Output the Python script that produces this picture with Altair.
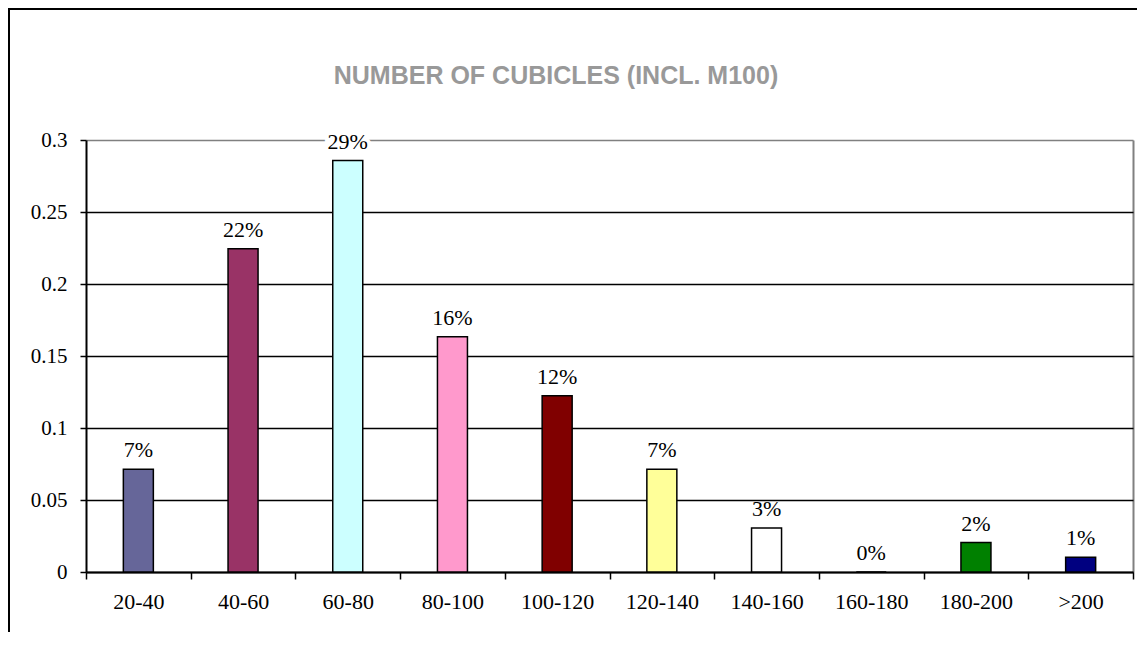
import altair as alt
import pandas as pd

categories = ["20-40", "40-60", "60-80", "80-100", "100-120",
              "120-140", "140-160", "160-180", "180-200", ">200"]
shares = [0.0714, 0.2245, 0.2857, 0.1633, 0.1224,
          0.0714, 0.0306, 0.0, 0.0204, 0.0102]
labels = ["7%", "22%", "29%", "16%", "12%", "7%", "3%", "0%", "2%", "1%"]
colors = ["#666699", "#993366", "#CCFFFF", "#FF99CC", "#800000",
          "#FFFF99", "#FFFFFF", "#FF99CC", "#008000", "#000080"]
y_ticks = [0, 0.05, 0.1, 0.15, 0.2, 0.25, 0.3]
title_text = ["NUMBER OF CUBICLES (INCL. M100)"]

df = pd.DataFrame({"cat": categories, "share": shares, "label": labels, "color": colors})
one = pd.DataFrame({"t": title_text})

W, H = 1047, 432
SERIF = "Liberation Serif"

x_enc = alt.X(
    "cat:N", sort=categories, title=None,
    scale=alt.Scale(paddingInner=0, paddingOuter=0),
    axis=alt.Axis(
        tickBand="extent", labelAngle=0, labelFont=SERIF, labelFontSize=22,
        labelColor="black", tickColor="black", tickSize=7, tickWidth=1.5,
        domainColor="black", domainWidth=2, labelPadding=12,
        grid=True, gridColor="#808080", gridWidth=2,
        gridOpacity=alt.condition("datum.value == '>200'", alt.value(1), alt.value(0)),
    ),
)
y_enc = alt.Y(
    "share:Q", title=None,
    scale=alt.Scale(domain=[0, 0.3], nice=False),
    axis=alt.Axis(
        values=y_ticks, format="~g", labelFont=SERIF, labelFontSize=21,
        labelColor="black", tickColor="black", tickSize=6, tickWidth=1.5,
        domainColor="black", domainWidth=2, labelPadding=13,
        grid=True, gridWidth=1.5,
        gridColor=alt.condition("datum.value >= 0.3", alt.value("#808080"), alt.value("black")),
    ),
)

# outer chart frame (only left and top edges are inside the picture)
frame_left = alt.Chart(one).mark_rule(color="black", strokeWidth=2).encode(
    x=alt.value(-77), y=alt.value(-132), y2=alt.value(H + 60)
)
frame_top = alt.Chart(one).mark_rule(color="black", strokeWidth=2).encode(
    x=alt.value(-78), x2=alt.value(W + 4), y=alt.value(-131)
)

title = alt.Chart(one).mark_text(
    font="Liberation Sans", fontSize=25, fontWeight="bold", color="#999999",
    align="center", baseline="alphabetic"
).encode(x=alt.value(470), y=alt.value(-56), text="t:N")

bars = alt.Chart(df).mark_bar(size=30, stroke="black", strokeWidth=1.5).encode(
    x=x_enc, y=y_enc, color=alt.Color("color:N", scale=None)
)

halo = alt.Chart(df).transform_filter("datum.share > 0.25").mark_text(
    baseline="bottom", dy=-7, font=SERIF, fontSize=22, color="white",
    stroke="white", strokeWidth=8
).encode(
    x=alt.X("cat:N", sort=categories), y=alt.Y("share:Q"), text="label:N"
)
text = alt.Chart(df).mark_text(
    baseline="bottom", dy=-7, font=SERIF, fontSize=22, color="black"
).encode(
    x=alt.X("cat:N", sort=categories), y=alt.Y("share:Q"), text="label:N"
)

chart = alt.layer(frame_left, frame_top, title, bars, halo, text).properties(
    width=W, height=H,
    autosize=alt.AutoSizeParams(type="none"),
    padding={"left": 78, "top": 132, "right": 4, "bottom": 60},
).configure_view(strokeWidth=0)

chart.save("out.html", embed_options={"renderer": "svg", "actions": False})
